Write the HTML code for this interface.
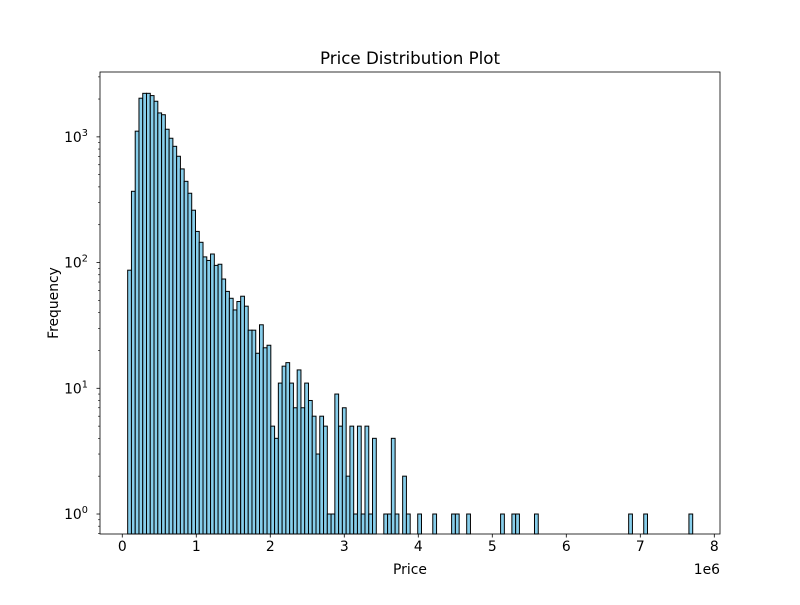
<!DOCTYPE html>
<html><head><meta charset="utf-8"><style>
body{margin:0;background:#fff}
svg text{font-family:"DejaVu Sans","Liberation Sans",sans-serif;fill:#000}
</style></head><body>
<svg id="chart" width="800" height="600" xmlns="http://www.w3.org/2000/svg">
<rect width="800" height="600" fill="#fff"/>
<g id="bars"></g>
<g id="axes"></g>
<text x="410" y="64" font-size="16.7" text-anchor="middle">Price Distribution Plot</text>
<text x="410" y="574" font-size="13.9" text-anchor="middle">Price</text>
<text transform="translate(58,303) rotate(-90)" font-size="13.9" text-anchor="middle">Frequency</text>
<text x="720" y="574" font-size="13.9" text-anchor="end">1e6</text>
</svg>
<script>
const binStart = 0.073;   // in 1e6
const binWidth = 0.0509;  // in 1e6
const counts = [87,369,1110,2030,2220,2220,2130,1920,1550,1500,1150,975,841,701,556,443,356,261,177,145,111,104,117,95,97,74,59,52,42,49,54,45,29,29,19,32,21,22,5,4,11,15,16,11,7,14,7,11,8,6,3,6,5,1,1,9,5,7,2,5,1,5,1,5,1,4,0,0,1,1,4,1,0,2,1,0,0,1,0,0,0,1,0,0,0,0,1,1,0,0,1,0,0,0,0,0,0,0,0,1,0,0,1,1,0,0,0,0,1,0,0,0,0,0,0,0,0,0,0,0,0,0,0,0,0,0,0,0,0,0,0,0,0,1,0,0,0,1,0,0,0,0,0,0,0,0,0,0,0,1];
const xTicks = [0,1,2,3,4,5,6,7,8];
const yTicks = [0,1,2,3];
const L=100,R=720,T=72,B=534;
const xmin=-0.301,xmax=8.077,ymin=-0.159,ymax=3.516;
const xs=v=>L+(v-xmin)/(xmax-xmin)*(R-L);
const ys=v=>B-(Math.log10(v)-ymin)/(ymax-ymin)*(B-T);
const NS='http://www.w3.org/2000/svg';
const bars=document.getElementById('bars'), axes=document.getElementById('axes');
function mk(tag,attrs,parent){const e=document.createElementNS(NS,tag);for(const k in attrs)e.setAttribute(k,attrs[k]);parent.appendChild(e);return e;}
counts.forEach((c,i)=>{
  if(c<=0)return;
  const x0=xs(binStart+i*binWidth),x1=xs(binStart+(i+1)*binWidth);
  const y=ys(c);
  const r=mk('rect',{x:x0,y:y,width:x1-x0,height:B-y,fill:'#87ceeb',stroke:'#000','stroke-width':1},bars);
  
  
});
mk('rect',{x:L,y:T,width:R-L,height:B-T,fill:'none',stroke:'#000','stroke-width':0.8},axes);
xTicks.forEach(t=>{
  const x=xs(t);
  mk('line',{x1:x,x2:x,y1:B,y2:B+3.5,stroke:'#000','stroke-width':0.8},axes);
  const tx=mk('text',{x:x,y:B+17,'font-size':13.9,'text-anchor':'middle'},axes);
  tx.textContent=t;
  
  
});
yTicks.forEach(t=>{
  const y=ys(Math.pow(10,t));
  mk('line',{x1:L,x2:L-3.5,y1:y,y2:y,stroke:'#000','stroke-width':0.8},axes);
  const tx=mk('text',{x:L-24,y:y+5,'font-size':13.9,'text-anchor':'middle'},axes);
  
  
  tx.appendChild(document.createTextNode('10'));
  const s=mk('tspan',{dy:-6,'font-size':9.7},tx);s.textContent=t;
  for(let m=2;m<10;m++){
    const v=m*Math.pow(10,t);
    if(Math.log10(v)>ymax)break;
    const yy=ys(v);
    mk('line',{x1:L,x2:L-2,y1:yy,y2:yy,stroke:'#000','stroke-width':0.6},axes);
  }
});
for(let m=7;m<10;m++){const yy=ys(m/10);mk('line',{x1:L,x2:L-2,y1:yy,y2:yy,stroke:'#000','stroke-width':0.6},axes);}
</script>
</body></html>
